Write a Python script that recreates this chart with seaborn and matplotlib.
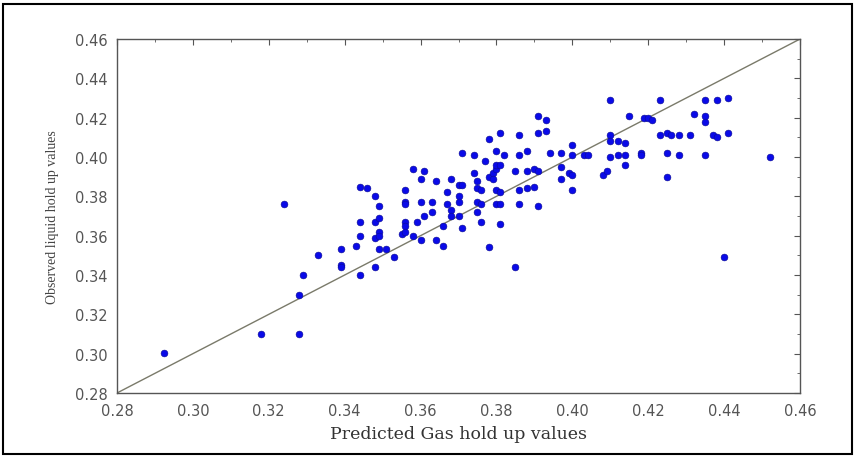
import matplotlib
matplotlib.use("Agg")
import matplotlib.pyplot as plt
import seaborn as sns
import pandas as pd
from matplotlib.patches import Rectangle
from matplotlib.ticker import MultipleLocator

predicted = [0.2925, 0.318, 0.328, 0.328, 0.329, 0.324, 0.333, 0.339, 0.339, 0.339,
             0.343, 0.344, 0.348, 0.344, 0.346, 0.348, 0.344, 0.344, 0.348, 0.348,
             0.349, 0.349, 0.349, 0.349, 0.349, 0.351, 0.353, 0.355, 0.356, 0.356,
             0.356, 0.356, 0.356, 0.356, 0.358, 0.358, 0.359, 0.360, 0.360, 0.360,
             0.361, 0.361, 0.363, 0.363, 0.364, 0.364, 0.366, 0.366, 0.367, 0.368,
             0.368, 0.368, 0.370, 0.370, 0.370, 0.370, 0.371, 0.371, 0.371, 0.374,
             0.374, 0.375, 0.375, 0.375, 0.376, 0.376, 0.375, 0.377, 0.378, 0.378,
             0.378, 0.379, 0.380, 0.380, 0.380, 0.380, 0.380, 0.381, 0.381, 0.381,
             0.381, 0.381, 0.382, 0.385, 0.385, 0.386, 0.386, 0.386, 0.386, 0.388,
             0.388, 0.388, 0.390, 0.390, 0.391, 0.391, 0.393, 0.391, 0.393, 0.391,
             0.394, 0.397, 0.397, 0.397, 0.399, 0.400, 0.400, 0.400, 0.400, 0.403,
             0.404, 0.408, 0.409, 0.410, 0.410, 0.410, 0.410, 0.412, 0.412, 0.414,
             0.414, 0.414, 0.415, 0.418, 0.418, 0.419, 0.420, 0.421, 0.423, 0.423,
             0.425, 0.425, 0.425, 0.426, 0.428, 0.428, 0.431, 0.432, 0.435, 0.435,
             0.435, 0.435, 0.437, 0.438, 0.438, 0.440, 0.441, 0.441, 0.452,
             0.367, 0.376, 0.379]
observed = [0.3005, 0.310, 0.310, 0.330, 0.340, 0.376, 0.350, 0.353, 0.345, 0.344,
            0.355, 0.340, 0.344, 0.385, 0.384, 0.380, 0.367, 0.360, 0.367, 0.359,
            0.375, 0.369, 0.362, 0.360, 0.353, 0.353, 0.349, 0.361, 0.383, 0.377,
            0.376, 0.367, 0.365, 0.362, 0.394, 0.360, 0.367, 0.377, 0.389, 0.358,
            0.393, 0.370, 0.377, 0.372, 0.388, 0.358, 0.355, 0.365, 0.382, 0.389,
            0.373, 0.370, 0.386, 0.380, 0.377, 0.370, 0.386, 0.364, 0.402, 0.401,
            0.392, 0.388, 0.384, 0.377, 0.376, 0.367, 0.372, 0.398, 0.354, 0.409,
            0.390, 0.392, 0.394, 0.383, 0.376, 0.403, 0.396, 0.412, 0.396, 0.382,
            0.376, 0.366, 0.401, 0.344, 0.393, 0.411, 0.401, 0.383, 0.376, 0.403,
            0.393, 0.384, 0.385, 0.394, 0.375, 0.421, 0.419, 0.412, 0.413, 0.393,
            0.402, 0.402, 0.395, 0.389, 0.392, 0.406, 0.401, 0.383, 0.391, 0.401,
            0.401, 0.391, 0.393, 0.429, 0.411, 0.408, 0.400, 0.401, 0.408, 0.407,
            0.401, 0.396, 0.421, 0.402, 0.401, 0.420, 0.420, 0.419, 0.429, 0.411,
            0.412, 0.402, 0.390, 0.411, 0.411, 0.401, 0.411, 0.422, 0.429, 0.421,
            0.418, 0.401, 0.411, 0.410, 0.429, 0.349, 0.430, 0.412, 0.400,
            0.376, 0.383, 0.389]

x_ticks = [0.28, 0.30, 0.32, 0.34, 0.36, 0.38, 0.40, 0.42, 0.44, 0.46]
y_ticks = [0.28, 0.30, 0.32, 0.34, 0.36, 0.38, 0.40, 0.42, 0.44, 0.46]
diag = [0.28, 0.46]

df = pd.DataFrame({"pred": predicted, "obs": observed})

sns.set_style("white")
fig = plt.figure(figsize=(8.56, 4.6), dpi=100)
ax = fig.add_axes([0.1367, 0.1435, 0.7979, 0.7695])

ax.plot(diag, diag, color="#7a7a6a", lw=1.0, zorder=1)
sns.scatterplot(data=df, x="pred", y="obs", ax=ax, color="#0a0ae8",
                edgecolor="#0a0a90", linewidth=0.4, s=24, zorder=2)

ax.set_xlim(0.28, 0.46)
ax.set_ylim(0.28, 0.46)
ax.set_xticks(x_ticks)
ax.set_yticks(y_ticks)
ax.set_xticklabels([f"{t:.2f}" for t in x_ticks])
ax.set_yticklabels([f"{t:.2f}" for t in y_ticks])
ax.xaxis.set_minor_locator(MultipleLocator(0.01))
ax.yaxis.set_minor_locator(MultipleLocator(0.01))
ax.tick_params(which="both", direction="in", top=True, right=True,
               color="#555555")
ax.tick_params(which="major", length=4, width=0.8, labelsize=10.5,
               labelcolor="#555555", pad=7)
ax.tick_params(which="minor", length=2, width=0.6)
for lab in ax.get_xticklabels() + ax.get_yticklabels():
    lab.set_family("DejaVu Sans")

for sp in ax.spines.values():
    sp.set_color("#555555")
    sp.set_linewidth(1.0)

ax.set_xlabel("Predicted Gas hold up values", family="DejaVu Serif",
              fontsize=12.5, color="#333333", labelpad=5)
ax.set_ylabel("Observed liquid hold up values", family="Liberation Serif",
              fontsize=10, color="#444444", labelpad=11)

fig.patches.append(Rectangle((0.004, 0.011), 0.991, 0.978, transform=fig.transFigure,
                             fill=False, edgecolor="black", linewidth=1.5))

fig.savefig("out.png", dpi=100, facecolor="white")
